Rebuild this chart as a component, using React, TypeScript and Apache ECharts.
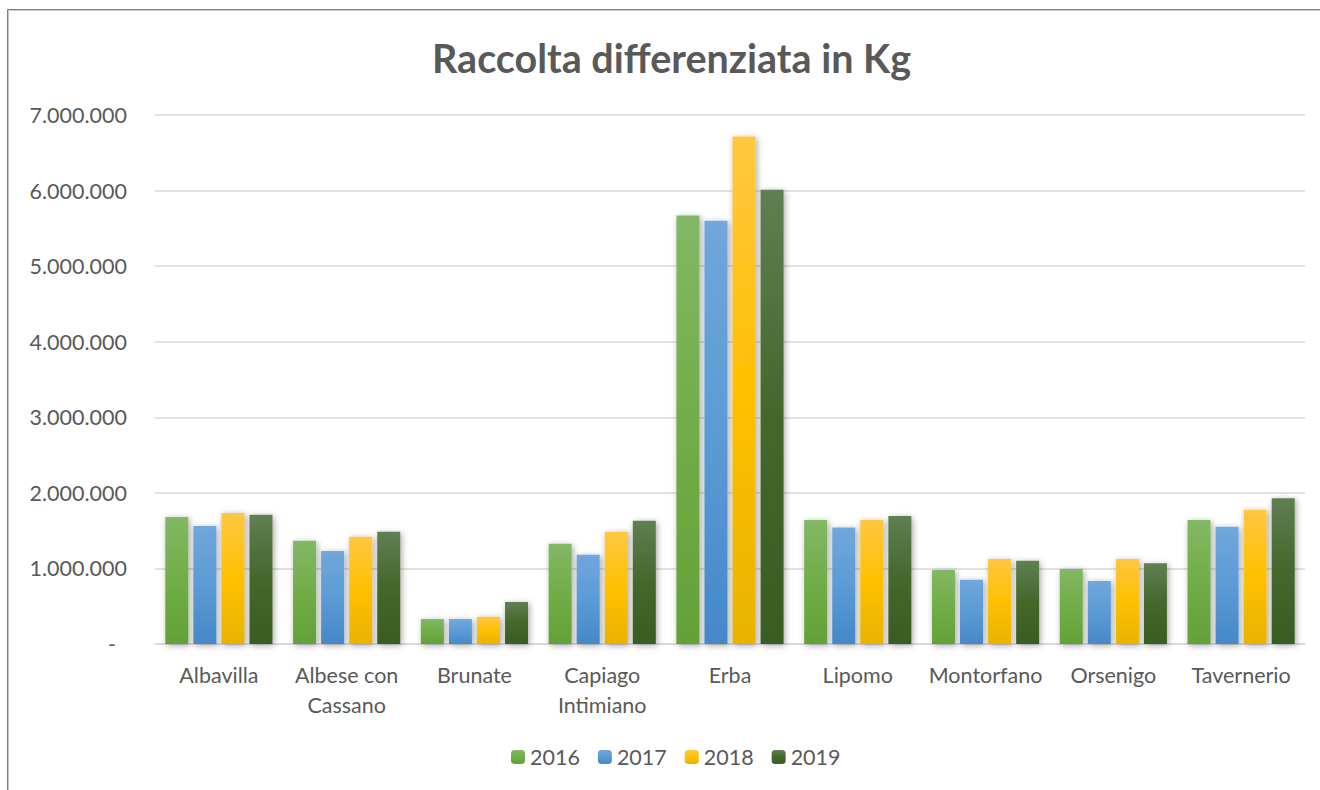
import React, { useEffect, useRef } from "react";
import * as echarts from "echarts";

const categories = [
  "Albavilla",
  "Albese con\nCassano",
  "Brunate",
  "Capiago\nIntimiano",
  "Erba",
  "Lipomo",
  "Montorfano",
  "Orsenigo",
  "Tavernerio",
];

const years = ["2016", "2017", "2018", "2019"];

const values2016 = [1680000, 1365000, 330000, 1325000, 5670000, 1640000, 980000, 993000, 1640000];
const values2017 = [1560000, 1230000, 330000, 1180000, 5600000, 1540000, 850000, 834000, 1550000];
const values2018 = [1735000, 1420000, 360000, 1485000, 6715000, 1640000, 1125000, 1125000, 1775000];
const values2019 = [1710000, 1485000, 556000, 1630000, 6010000, 1695000, 1100000, 1070000, 1930000];

const seriesValues = [values2016, values2017, values2018, values2019];

const gradients = [
  ["#82b866", "#70ad47", "#63a139"],
  ["#70a7dc", "#5b9bd5", "#4588c8"],
  ["#ffc741", "#ffc000", "#e8b300"],
  ["#5f7f52", "#43682b", "#395d22"],
];

const yTicks = { min: 0, max: 7000000, interval: 1000000 };

function fmt(v: number): string {
  if (v === 0) return "{d|-}";
  return String(Math.round(v)).replace(/\B(?=(\d{3})+(?!\d))/g, ".");
}

export default function App() {
  const ref = useRef<HTMLDivElement>(null);
  useEffect(() => {
    if (!ref.current) return;
    const chart = echarts.init(ref.current, undefined, { renderer: "svg" });
    const font = "Lato";
    const fs = 21.5;
    chart.setOption({
      animation: false,
      backgroundColor: "#ffffff",
      textStyle: { fontFamily: font },
      graphic: [
        {
          type: "rect",
          shape: { x: 7.5, y: 9.5, width: 1400, height: 900 },
          style: { fill: "none", stroke: "#808080", lineWidth: 1 },
          silent: true,
        },
        {
          type: "rect",
          shape: { x: 8.5, y: 10.5, width: 1400, height: 900 },
          style: { fill: "none", stroke: "#c8c8c8", lineWidth: 1 },
          silent: true,
        },
        {
          type: "text",
          x: 671.5,
          y: 57,
          style: {
            text: "Raccolta differenziata in Kg",
            fontFamily: font,
            fontWeight: "bold",
            fontSize: 39.5,
            fill: "#595959",
            textAlign: "center",
            textVerticalAlign: "middle",
          },
        },
      ],
      legend: {
        data: years,
        left: 511,
        top: 746,
        padding: 0,
        itemWidth: 14,
        itemHeight: 14,
        itemGap: 18,
        textStyle: { fontFamily: font, fontSize: fs, color: "#595959" },
      },
      grid: { left: 155, right: 15, top: 115, bottom: 146, containLabel: false },
      xAxis: {
        type: "category",
        data: categories,
        axisLine: { show: true, lineStyle: { color: "#d9d9d9", width: 1.5 } },
        axisTick: { show: false },
        axisLabel: {
          interval: 0,
          margin: 16,
          fontFamily: font,
          fontSize: fs,
          color: "#595959",
          lineHeight: 30,
        },
      },
      yAxis: {
        type: "value",
        min: yTicks.min,
        max: yTicks.max,
        interval: yTicks.interval,
        axisLine: { show: false },
        axisTick: { show: false },
        splitLine: { lineStyle: { color: "#d9d9d9", width: 1.5 } },
        axisLabel: {
          margin: 28,
          fontFamily: font,
          fontSize: fs,
          color: "#595959",
          formatter: fmt,
          rich: { d: { padding: [0, 11, 0, 0], fontSize: fs, color: "#595959", fontFamily: font } },
        },
      },
      series: years.map((y, i) => ({
        name: y,
        type: "bar",
        data: seriesValues[i],
        barWidth: 23,
        barGap: "22%",
        itemStyle: {
          color: new echarts.graphic.LinearGradient(0, 0, 0, 1, [
            { offset: 0, color: gradients[i][0] },
            { offset: 0.5, color: gradients[i][1] },
            { offset: 1, color: gradients[i][2] },
          ]),
          shadowBlur: 6,
          shadowColor: "rgba(0,0,0,0.35)",
          shadowOffsetX: 1.5,
          shadowOffsetY: 1.5,
        },
      })),
    });
    return () => chart.dispose();
  }, []);
  return (
    <div
      ref={ref}
      style={{ position: "absolute", left: 0, top: 0, width: 1320, height: 790 }}
    />
  );
}
